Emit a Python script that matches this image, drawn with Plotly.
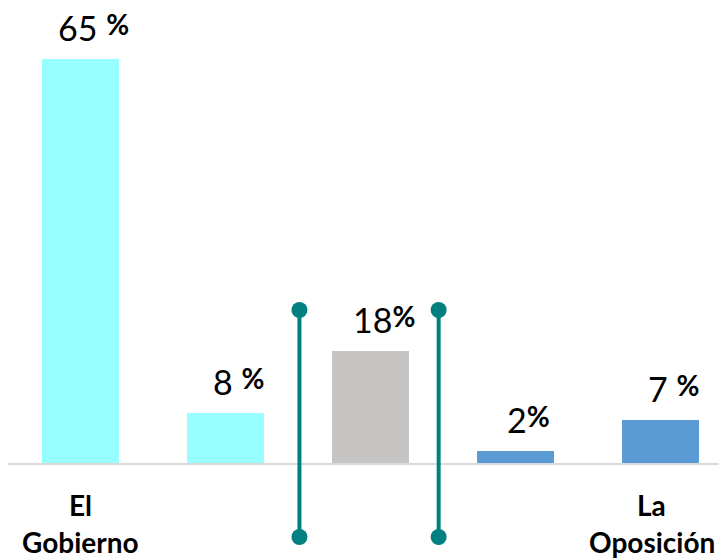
import plotly.graph_objects as go

# data
categories = ["El<br>Gobierno", "", "", "", "La<br>Oposición"]
values = [65, 8, 18, 2, 7]
gaps = [" ", " ", "", "", " "]          # spacing between number and % as printed
bar_colors = ["#97FFFF", "#97FFFF", "#C6C5C3", "#5B9BD5", "#5B9BD5"]

FONT = "Lato"
TEAL = "#008080"
x = list(range(len(values)))

fig = go.Figure()
fig.add_trace(go.Bar(x=x, y=values, marker=dict(color=bar_colors, line=dict(width=0)),
                     width=0.53, hoverinfo="skip"))

# value labels (number + small bold %)
for i, v in enumerate(values):
    fig.add_annotation(
        x=i, y=v, xref="x", yref="y", xanchor="center", yanchor="bottom",
        text=f"{v}{gaps[i]}<span style='font-size:28px;baseline-shift:6px'><b>%</b></span>",
        showarrow=False, xshift=13, yshift=9,
        font=dict(family=FONT, size=34, color="#000000"))

# category labels, two lines each (last one nudged so it stays inside the page)
for i, c in enumerate(categories):
    if not c:
        continue
    for k, part in enumerate(c.split("<br>")):
        fig.add_annotation(
            x=i, y=0, xref="x", yref="paper", xanchor="center", yanchor="top",
            text=f"<b>{part}</b>", showarrow=False, yshift=-23 - 37 * k,
            xshift=-9 if i == len(categories) - 1 else 0,
            font=dict(family=FONT, size=28, color="#000000"))

# teal separators with round end caps
for xs in (1.51, 2.47):
    fig.add_shape(type="line", xref="x", yref="paper", x0=xs, x1=xs, y0=0.3363, y1=-0.1626,
                  line=dict(color=TEAL, width=4))
    for ya in (0.3363, -0.1626):
        fig.add_shape(type="circle", xref="x", yref="paper", xsizemode="pixel", ysizemode="pixel",
                      xanchor=xs, yanchor=ya, x0=-8, x1=8, y0=-8, y1=8,
                      fillcolor=TEAL, line=dict(color=TEAL, width=0))

fig.update_layout(
    width=719, height=552,
    margin=dict(l=0, r=0, t=0, b=97),
    plot_bgcolor="white", paper_bgcolor="white",
    showlegend=False, bargap=0,
    xaxis=dict(range=[-0.5, -0.5 + 719 / 145], showticklabels=False, showgrid=False, zeroline=False,
               showline=True, linecolor="#D9D9D9", linewidth=2, ticks=""),
    yaxis=dict(range=[0, 455 / 6.215], visible=False, showgrid=False, zeroline=False),
)

fig.write_html("out.html")
